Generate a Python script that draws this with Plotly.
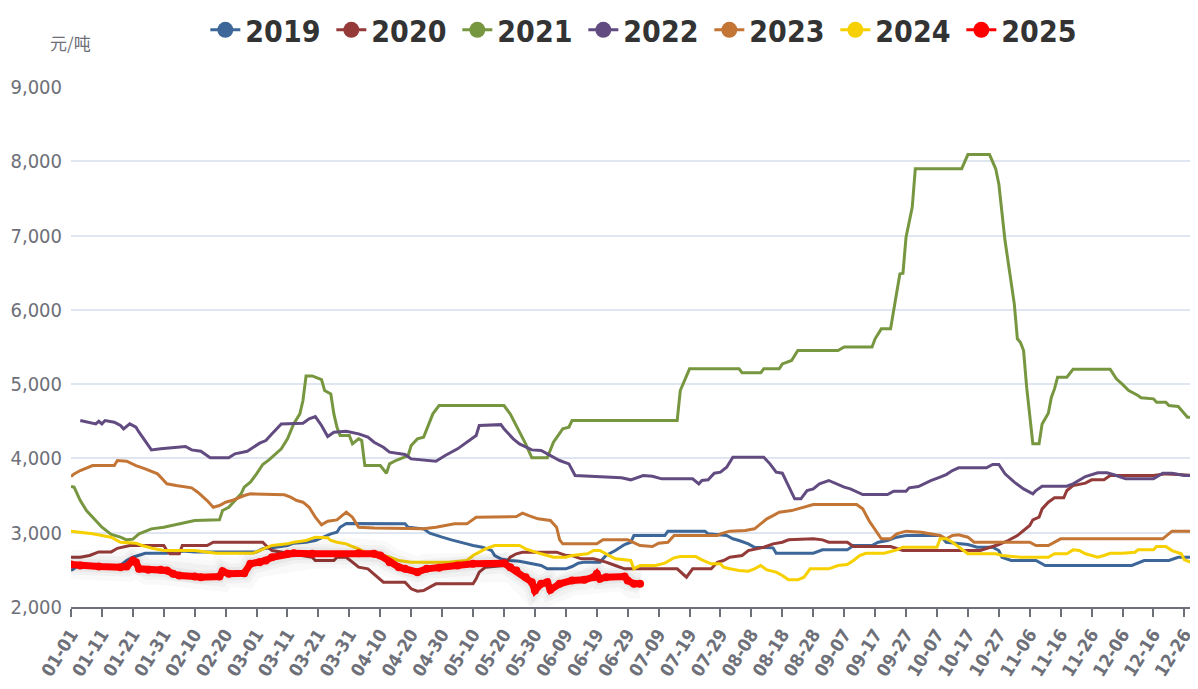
import plotly.graph_objects as go
import pandas as pd

# ---- categories / tick labels (leap-year calendar, as on the chart axis) ----
categories = list(pd.date_range("2024-01-01", "2024-12-31").strftime("%m-%d"))
tick_labels = categories[::10]

series_names = ["2019", "2020", "2021", "2022", "2023", "2024", "2025"]
colors = ["#3d6699", "#943a38", "#779640", "#624b80", "#c37536", "#f7d000", "#ff0000"]

# ---- series (date, value) ----
dates_2019 = ["01-01","01-03","01-17","01-19","01-21","01-25","02-01","02-03","02-07","02-10","03-01","03-03","03-06","03-11","03-13","03-17","03-20","03-23","03-25","03-27","03-28","03-30","04-18","04-19","04-24","04-26","04-28","04-30","05-03","05-05","05-08","05-10","05-13","05-16","05-17","05-19","05-22","05-25","06-01","06-03","06-09","06-11","06-13","06-15","06-20","06-22","06-25","06-28","06-30","07-01","07-11","07-12","07-24","07-25","07-31","08-02","08-04","08-07","08-09","08-15","08-16","08-28","08-31","09-08","09-10","09-16","09-18","09-21","09-24","09-27","10-08","10-10","10-17","10-20","10-25","10-27","10-28","10-31","11-08","11-11","12-09","12-13","12-21","12-24","12-31"]
vals_2019 = [2490,2545,2559,2626,2670,2724,2724,2751,2751,2742,2742,2783,2796,2828,2859,2872,2895,2949,2985,3007,3074,3125,3120,3074,3052,2994,2962,2940,2904,2886,2850,2828,2805,2760,2693,2648,2626,2617,2559,2514,2514,2545,2590,2604,2604,2693,2760,2841,2872,2962,2962,3021,3021,2985,2962,2918,2895,2850,2805,2796,2724,2724,2769,2769,2828,2828,2872,2895,2940,2962,2962,2872,2841,2805,2805,2760,2670,2626,2626,2559,2559,2626,2626,2670,2670]

dates_2020 = ["01-01","01-04","01-07","01-10","01-14","01-16","01-20","01-31","02-01","02-02","02-05","02-06","02-14","02-16","03-03","03-04","03-06","03-11","03-19","03-20","03-26","03-27","03-30","04-01","04-03","04-06","04-08","04-09","04-11","04-18","04-20","04-22","04-24","04-26","04-28","05-10","05-11","05-12","05-14","05-20","05-22","05-24","05-26","06-06","06-09","06-11","06-14","06-18","06-20","06-22","06-25","06-28","07-15","07-17","07-18","07-20","07-26","07-28","07-30","08-01","08-05","08-07","08-10","08-12","08-15","08-18","08-20","08-28","08-31","09-02","09-08","09-10","09-22","09-26","10-21","10-27","10-30","11-02","11-04","11-06","11-07","11-09","11-10","11-12","11-14","11-17","11-18","11-20","11-24","11-26","11-30","12-02","12-16","12-20","12-24","12-29","12-30"]
vals_2020 = [2670,2670,2693,2742,2742,2790,2828,2828,2760,2716,2716,2828,2828,2872,2872,2828,2760,2724,2670,2626,2626,2670,2670,2604,2536,2514,2447,2401,2334,2334,2245,2213,2222,2267,2312,2312,2379,2469,2536,2559,2670,2716,2738,2738,2693,2693,2648,2648,2626,2604,2559,2514,2514,2447,2401,2514,2514,2603,2626,2670,2693,2760,2783,2805,2850,2872,2904,2918,2904,2872,2872,2814,2814,2760,2760,2841,2895,2962,3030,3097,3173,3209,3321,3411,3470,3470,3568,3635,3667,3712,3712,3770,3770,3792,3783,3770,3660]

dates_2021 = ["01-01","01-02","01-04","01-06","01-08","01-11","01-14","01-17","01-19","01-21","01-23","01-27","01-31","02-05","02-10","02-18","02-19","02-21","02-23","02-25","02-26","02-28","03-01","03-03","03-05","03-09","03-11","03-13","03-15","03-16","03-17","03-19","03-22","03-23","03-25","03-26","03-27","03-28","03-31","04-01","04-03","04-04","04-05","04-10","04-12","04-13","04-15","04-19","04-20","04-22","04-24","04-27","04-29","05-20","05-22","05-24","05-27","05-29","06-03","06-05","06-08","06-10","06-11","07-15","07-16","07-19","08-04","08-05","08-11","08-12","08-17","08-18","08-21","08-23","09-05","09-07","09-16","09-17","09-19","09-22","09-23","09-25","09-26","09-27","09-29","09-30","10-15","10-17","10-24","10-26","10-27","10-29","11-01","11-02","11-03","11-04","11-05","11-06","11-07","11-09","11-10","11-12","11-13","11-14","11-15","11-18","11-20","12-02","12-04","12-06","12-08","12-11","12-12","12-16","12-17","12-20","12-21","12-24","12-27","12-31"]
vals_2021 = [3622,3613,3433,3299,3209,3074,2976,2940,2904,2913,2985,3052,3074,3119,3164,3173,3299,3343,3433,3523,3613,3680,3792,3918,3981,4129,4263,4465,4600,4779,5110,5110,5060,4914,4869,4600,4420,4308,4308,4196,4263,4241,3904,3904,3801,3927,3972,4039,4174,4263,4286,4600,4712,4712,4600,4443,4196,4008,4008,4218,4398,4420,4510,4510,4914,5206,5206,5152,5152,5206,5206,5273,5318,5452,5452,5500,5500,5610,5744,5744,5991,6484,6493,6977,7381,7900,7900,8090,8090,7898,7696,6933,6081,5610,5560,5452,4959,4555,4196,4196,4465,4608,4824,4936,5093,5093,5200,5200,5071,4996,4914,4847,4816,4802,4757,4757,4712,4699,4555,4555]

dates_2022 = ["01-04","01-09","01-10","01-11","01-12","01-15","01-17","01-18","01-20","01-22","01-23","01-25","01-27","01-30","02-07","02-09","02-12","02-15","02-21","02-23","02-27","03-02","03-04","03-06","03-09","03-16","03-18","03-20","03-22","03-24","03-26","03-30","04-03","04-06","04-08","04-11","04-13","04-18","04-20","04-28","05-01","05-05","05-09","05-11","05-12","05-19","05-20","05-23","05-25","05-29","06-01","06-04","06-07","06-10","06-12","06-27","06-30","07-04","07-07","07-10","07-20","07-22","07-23","07-25","07-27","07-29","07-31","08-02","08-12","08-14","08-16","08-18","08-20","08-22","08-24","08-26","08-28","08-30","09-02","09-05","09-07","09-09","09-13","09-21","09-23","09-27","09-28","10-01","10-05","10-08","10-10","10-12","10-14","10-23","10-25","10-27","10-29","11-01","11-04","11-07","11-08","11-10","11-18","11-20","11-24","11-28","12-01","12-04","12-07","12-16","12-19","12-22","12-26","12-31"]
vals_2022 = [4510,4465,4500,4465,4510,4487,4443,4398,4465,4420,4353,4241,4115,4130,4160,4115,4097,4008,4008,4062,4097,4205,4241,4331,4465,4474,4533,4564,4443,4295,4353,4366,4331,4286,4218,4151,4084,4053,3994,3962,4039,4129,4241,4308,4443,4455,4398,4263,4196,4115,4106,4039,3972,3927,3770,3739,3712,3770,3760,3725,3725,3658,3703,3712,3801,3815,3882,4016,4016,3927,3815,3801,3635,3456,3456,3568,3590,3658,3703,3649,3613,3590,3514,3514,3559,3559,3604,3622,3700,3747,3783,3837,3873,3873,3918,3918,3792,3680,3590,3523,3568,3626,3626,3658,3756,3806,3806,3770,3725,3725,3801,3801,3770,3770]

dates_2023 = ["01-01","01-02","01-04","01-07","01-08","01-15","01-16","01-19","01-22","01-25","01-29","01-31","02-01","02-04","02-09","02-11","02-14","02-16","02-18","02-20","02-22","02-26","02-28","03-10","03-12","03-14","03-16","03-18","03-20","03-22","03-24","03-27","03-30","04-01","04-03","04-08","04-24","04-28","05-04","05-08","05-11","05-24","05-26","05-28","05-31","06-04","06-06","06-07","06-08","06-19","06-21","06-29","07-03","07-07","07-09","07-12","07-14","07-28","07-29","08-01","08-06","08-09","08-11","08-13","08-15","08-17","08-21","08-24","08-26","08-28","09-11","09-13","09-15","09-19","09-22","09-24","09-27","10-02","10-08","10-10","10-12","10-14","10-17","10-19","11-06","11-08","11-12","11-14","11-16","12-19","12-22","12-29"]
vals_2023 = [3756,3792,3837,3891,3904,3904,3972,3963,3904,3860,3792,3703,3658,3635,3604,3545,3433,3343,3366,3411,3433,3501,3523,3510,3478,3433,3411,3343,3209,3106,3155,3173,3276,3209,3074,3065,3052,3074,3119,3119,3209,3218,3263,3231,3187,3164,3074,2904,2850,2850,2904,2904,2828,2814,2859,2872,2962,2962,2985,3021,3030,3052,3119,3187,3231,3276,3298,3335,3353,3380,3380,3321,3164,2918,2918,2985,3021,3007,2962,2918,2962,2971,2940,2872,2872,2828,2828,2872,2918,2918,3021,3021]

dates_2024 = ["01-01","01-04","01-08","01-14","01-17","01-22","01-24","01-28","01-31","02-10","02-12","02-17","02-29","03-02","03-04","03-06","03-11","03-13","03-17","03-20","03-24","03-25","03-27","03-30","04-01","04-03","04-05","04-09","04-13","04-16","04-20","05-02","05-08","05-10","05-12","05-14","05-17","05-25","05-27","05-30","06-01","06-05","06-09","06-11","06-16","06-18","06-20","06-22","06-25","06-30","07-01","07-03","07-08","07-11","07-14","07-16","07-21","07-23","07-26","07-29","07-30","08-01","08-04","08-07","08-09","08-11","08-13","08-16","08-18","08-20","08-23","08-25","08-27","09-02","09-05","09-08","09-10","09-12","09-14","09-20","09-24","09-26","10-07","10-08","10-10","10-12","10-14","10-17","10-26","10-28","11-03","11-12","11-14","11-18","11-20","11-22","11-24","11-28","11-30","12-02","12-06","12-10","12-11","12-16","12-17","12-20","12-22","12-25","12-26","12-28","12-31"]
vals_2024 = [3021,3007,2985,2940,2872,2859,2828,2783,2760,2760,2751,2724,2724,2760,2796,2828,2850,2872,2895,2940,2931,2895,2872,2850,2814,2783,2738,2716,2670,2626,2604,2604,2626,2693,2738,2783,2828,2828,2783,2738,2716,2670,2670,2693,2716,2760,2760,2716,2648,2626,2514,2559,2559,2590,2662,2679,2679,2634,2581,2581,2536,2514,2491,2482,2514,2559,2500,2469,2424,2366,2366,2401,2514,2514,2559,2572,2626,2693,2724,2724,2769,2805,2805,2918,2918,2872,2805,2716,2716,2693,2670,2670,2716,2716,2769,2760,2716,2670,2693,2724,2724,2738,2769,2769,2814,2814,2760,2716,2634,2603,2559]

dates_2025 = ["01-01","01-04","01-10","01-17","01-19","01-21","01-22","01-23","01-26","01-30","02-01","02-03","02-05","02-10","02-12","02-18","02-19","02-21","02-26","02-28","03-02","03-04","03-06","03-11","03-13","03-19","04-03","04-08","04-10","04-13","04-16","04-18","04-22","04-25","04-29","05-05","05-10","05-20","05-22","05-24","05-27","05-29","05-30","06-01","06-03","06-04","06-07","06-11","06-15","06-18","06-19","06-20","06-22","06-28","06-29","07-01","07-03"]
vals_2025 = [2572,2559,2545,2536,2545,2626,2603,2514,2500,2500,2491,2447,2424,2411,2401,2411,2482,2447,2455,2581,2603,2626,2670,2716,2724,2716,2724,2716,2693,2604,2536,2514,2469,2514,2527,2559,2581,2590,2536,2491,2401,2334,2222,2312,2334,2231,2312,2357,2366,2401,2447,2379,2401,2411,2357,2312,2312]

series_dates = [dates_2019, dates_2020, dates_2021, dates_2022, dates_2023, dates_2024, dates_2025]
series_vals = [vals_2019, vals_2020, vals_2021, vals_2022, vals_2023, vals_2024, vals_2025]

y_ticks = [2000, 3000, 4000, 5000, 6000, 7000, 8000, 9000]

# ---- figure ----
pos = {d: i for i, d in enumerate(categories)}
cond = "DejaVu Sans Condensed, DejaVu Sans, sans-serif"

fig = go.Figure()

for name, dates, vals, col in zip(series_names, series_dates, series_vals, colors):
    xs = [pos[d] for d in dates]
    if name == "2025":
        # soft shadow around the current-year line
        for w, a in [(30, 0.025), (20, 0.03), (13, 0.04)]:
            fig.add_trace(go.Scatter(x=xs, y=vals, mode="lines", showlegend=False,
                                     hoverinfo="skip",
                                     line=dict(color=f"rgba(0,0,0,{a})", width=w)))
        fig.add_trace(go.Scatter(x=xs, y=vals, mode="lines+markers", name=name,
                                 showlegend=False,
                                 line=dict(color=col, width=7),
                                 marker=dict(color=col, size=8)))
    else:
        fig.add_trace(go.Scatter(x=xs, y=vals, mode="lines", name=name,
                                 showlegend=False,
                                 line=dict(color=col, width=3)))

# legend entries (line + circle symbol)
for name, col in zip(series_names, colors):
    fig.add_trace(go.Scatter(x=[None], y=[None], mode="lines+markers", name=name,
                             line=dict(color=col, width=3),
                             marker=dict(color=col, size=16)))

fig.update_layout(
    width=1190, height=681,
    margin=dict(l=63, r=0, t=79, b=82, autoexpand=False),
    paper_bgcolor="white", plot_bgcolor="white",
    showlegend=True,
    legend=dict(orientation="h", x=0.5105, xanchor="center", y=1.11, yanchor="middle",
                font=dict(family=cond, size=30, color="#333333", weight="bold"),
                itemwidth=30, traceorder="normal", bgcolor="rgba(0,0,0,0)",
                entrywidth=81, entrywidthmode="pixels",
                tracegroupgap=0),
    xaxis=dict(
        range=[0, 364.4],
        tickmode="array",
        tickvals=[pos[t] for t in tick_labels],
        ticktext=tick_labels,
        tickangle=-58,
        tickfont=dict(family=cond, size=18, color="#6e7079", weight="bold"),
        showgrid=False, zeroline=False,
        showline=True, linecolor="#6e7079", linewidth=1.5,
        ticks="outside", ticklen=8, tickcolor="#6e7079", tickwidth=1.5,
    ),
    yaxis=dict(
        range=[2000, 9000],
        tickmode="array", tickvals=y_ticks,
        tickformat=",",
        tickfont=dict(family=cond, size=20, color="#6e7079"),
        showgrid=True, gridcolor="#e0e6f1", gridwidth=1.5,
        zeroline=False, showline=False, ticks="",
        ticklabelstandoff=8,
    ),
    annotations=[dict(
        text="元/吨", xref="paper", yref="paper", x=0, y=1,
        xanchor="center", yanchor="middle", xshift=-1, yshift=45,
        showarrow=False,
        font=dict(family="Noto Sans CJK SC", size=17, color="#6e7079"),
    )],
)

fig.write_html("out.html")
